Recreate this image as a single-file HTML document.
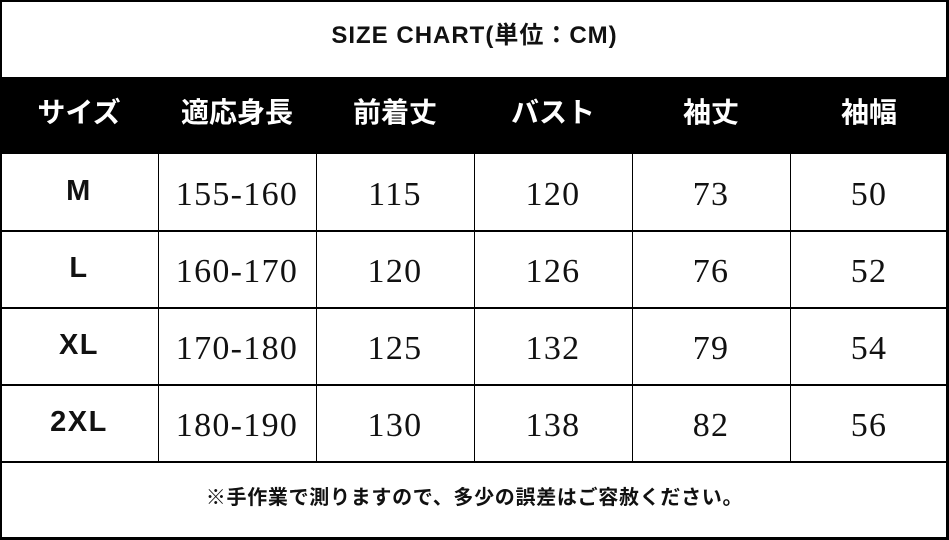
<!DOCTYPE html>
<html><head><meta charset="utf-8">
<style>
html,body{margin:0;padding:0;background:#fff;}
#c{position:relative;width:949px;height:540px;overflow:hidden;background:#fff;}
.h{position:absolute;background:#000;}
.t{position:absolute;text-align:center;white-space:nowrap;}
.title{left:0;width:949px;top:21px;font:bold 24px/30px "Liberation Sans","Noto Sans CJK JP",sans-serif;color:#111;letter-spacing:1px;}
.hd{top:96px;height:34px;font:bold 28px/34px "Liberation Sans","Noto Sans CJK JP",sans-serif;color:#fff;width:158px;}
.sz{width:158px;font:bold 29px/36px "Liberation Sans",sans-serif;color:#111;letter-spacing:1.5px;}
.n{width:158px;font:34px/36px "Liberation Serif",serif;color:#111;letter-spacing:1.3px;}
.foot{left:0;width:949px;top:484px;font:bold 20px/28px "Liberation Sans","Noto Sans CJK JP",sans-serif;color:#111;letter-spacing:0.7px;}
</style></head><body>
<div id="c">
<!-- outer borders -->
<div class="h" style="left:0;top:0;width:949px;height:2px;"></div>
<div class="h" style="left:0;top:0;width:2px;height:540px;"></div>
<div class="h" style="left:946px;top:0;width:3px;height:540px;"></div>
<div class="h" style="left:0;top:537px;width:949px;height:3px;"></div>
<!-- header band -->
<div class="h" style="left:0;top:77px;width:949px;height:77px;"></div>
<!-- row lines -->
<div class="h" style="left:0;top:230px;width:949px;height:2px;"></div>
<div class="h" style="left:0;top:307px;width:949px;height:2px;"></div>
<div class="h" style="left:0;top:384px;width:949px;height:2px;"></div>
<div class="h" style="left:0;top:461px;width:949px;height:2px;"></div>
<!-- column lines -->
<div class="h" style="left:158px;top:154px;width:1px;height:308px;"></div>
<div class="h" style="left:316px;top:154px;width:1px;height:308px;"></div>
<div class="h" style="left:474px;top:154px;width:1px;height:308px;"></div>
<div class="h" style="left:632px;top:154px;width:1px;height:308px;"></div>
<div class="h" style="left:790px;top:154px;width:1px;height:308px;"></div>

<div class="t title">SIZE CHART(単位：CM)</div>

<div class="t hd" style="left:0;">サイズ</div>
<div class="t hd" style="left:158px;">適応身長</div>
<div class="t hd" style="left:316px;">前着丈</div>
<div class="t hd" style="left:474px;">バスト</div>
<div class="t hd" style="left:632px;">袖丈</div>
<div class="t hd" style="left:790px;">袖幅</div>

<!-- row M -->
<div class="t sz" style="left:0;top:173px;">M</div>
<div class="t n" style="left:158px;top:177px;">155-160</div>
<div class="t n" style="left:316px;top:177px;">115</div>
<div class="t n" style="left:474px;top:177px;">120</div>
<div class="t n" style="left:632px;top:177px;">73</div>
<div class="t n" style="left:790px;top:177px;">50</div>
<!-- row L -->
<div class="t sz" style="left:0;top:250px;">L</div>
<div class="t n" style="left:158px;top:254px;">160-170</div>
<div class="t n" style="left:316px;top:254px;">120</div>
<div class="t n" style="left:474px;top:254px;">126</div>
<div class="t n" style="left:632px;top:254px;">76</div>
<div class="t n" style="left:790px;top:254px;">52</div>
<!-- row XL -->
<div class="t sz" style="left:0;top:327px;">XL</div>
<div class="t n" style="left:158px;top:331px;">170-180</div>
<div class="t n" style="left:316px;top:331px;">125</div>
<div class="t n" style="left:474px;top:331px;">132</div>
<div class="t n" style="left:632px;top:331px;">79</div>
<div class="t n" style="left:790px;top:331px;">54</div>
<!-- row 2XL -->
<div class="t sz" style="left:0;top:404px;">2XL</div>
<div class="t n" style="left:158px;top:408px;">180-190</div>
<div class="t n" style="left:316px;top:408px;">130</div>
<div class="t n" style="left:474px;top:408px;">138</div>
<div class="t n" style="left:632px;top:408px;">82</div>
<div class="t n" style="left:790px;top:408px;">56</div>

<div class="t foot">※手作業で測りますので、多少の誤差はご容赦ください。</div>
</div>
</body></html>
